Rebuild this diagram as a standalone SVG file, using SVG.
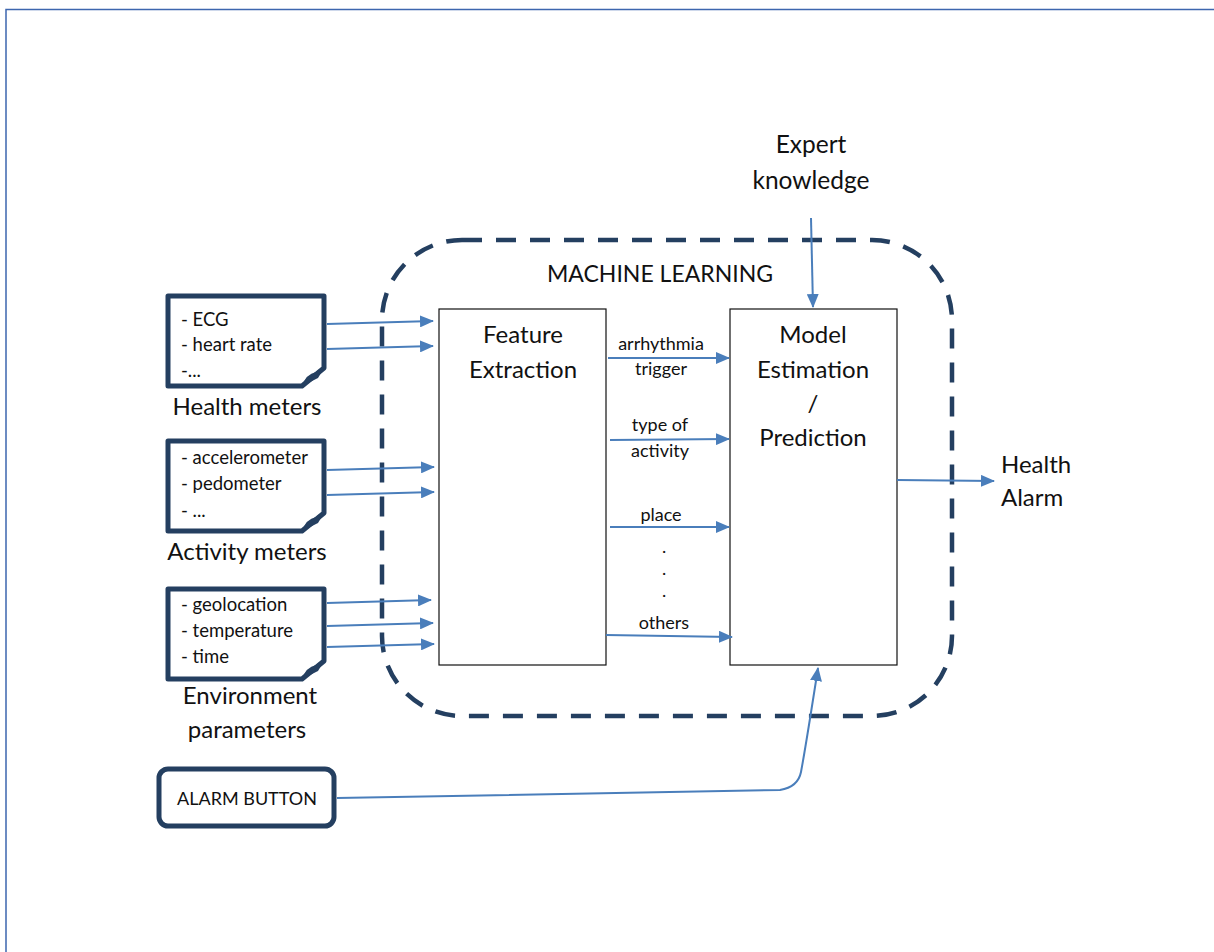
<svg xmlns="http://www.w3.org/2000/svg" width="1214" height="952" viewBox="0 0 1214 952">
  <style>
    text { font-family: Lato, "Open Sans", "Liberation Sans", sans-serif; fill: #111; }
    .item { font-size: 18.5px; }
    .cap { font-size: 24px; }
    .lbl { font-size: 18px; }
    .big { font-size: 24px; }
    .doc { fill: #fff; stroke: #243f60; stroke-width: 5; stroke-linejoin: round; }
    .fold { fill: #243f60; }
    .box { fill: #fff; stroke: #111; stroke-width: 1.2; }
    .conn { fill: none; stroke: #4a7ebb; stroke-width: 2; }
  </style>
  <defs>
    <marker id="arrow" viewBox="0 0 14 12" refX="13" refY="6" markerWidth="14" markerHeight="12" markerUnits="userSpaceOnUse" orient="auto">
      <path d="M0,0 L14,6 L0,12 Z" fill="#4a7ebb"/>
    </marker>
  </defs>

  <rect width="1214" height="952" fill="#fff"/>
  <!-- page frame -->
  <path d="M6,952 V9.5 H1214" fill="none" stroke="#3d66ae" stroke-width="1.5"/>

  <!-- machine learning boundary -->
  <g id="machine-learning">
    <rect x="382" y="240" width="570" height="476" rx="80" ry="80" fill="none" stroke="#243f60" stroke-width="4.5" stroke-dasharray="20 14"/>
    <text x="660" y="282" text-anchor="middle" style="font-size:23px">MACHINE LEARNING</text>
  </g>

  <g id="feature-extraction">
    <rect class="box" x="439" y="309" width="167" height="356"/>
    <text class="big" x="523" y="343" text-anchor="middle">Feature</text>
    <text class="big" x="523" y="378" text-anchor="middle">Extraction</text>
  </g>

  <g id="model-estimation">
    <rect class="box" x="730" y="309" width="167" height="356"/>
    <text class="big" x="813" y="343" text-anchor="middle">Model</text>
    <text class="big" x="813" y="378" text-anchor="middle">Estimation</text>
    <text class="big" x="813" y="412" text-anchor="middle">/</text>
    <text class="big" x="813" y="446" text-anchor="middle">Prediction</text>
  </g>

  <g id="health-meters">
    <path class="doc" d="M168,296 H324 V368 L302,386 H168 Z"/>
    <path class="fold" d="M302,386 Q306,374 316,372 Q320,368 324,368 L318,378 Z"/>
    <text class="item" x="181" y="326">- ECG</text>
    <text class="item" x="181" y="351">- heart rate</text>
    <text class="item" x="181" y="377">-...</text>
    <text class="cap" x="247" y="415" text-anchor="middle">Health meters</text>
  </g>

  <g id="activity-meters">
    <path class="doc" d="M168,441 H324 V513 L302,531 H168 Z"/>
    <path class="fold" d="M302,531 Q306,519 316,517 Q320,513 324,513 L318,523 Z"/>
    <text class="item" x="181" y="464">- accelerometer</text>
    <text class="item" x="181" y="490">- pedometer</text>
    <text class="item" x="181" y="517">- ...</text>
    <text class="cap" x="247" y="560" text-anchor="middle">Activity meters</text>
  </g>

  <g id="environment-parameters">
    <path class="doc" d="M168,589 H324 V661 L302,679 H168 Z"/>
    <path class="fold" d="M302,679 Q306,667 316,665 Q320,661 324,661 L318,671 Z"/>
    <text class="item" x="181" y="611">- geolocation</text>
    <text class="item" x="181" y="637">- temperature</text>
    <text class="item" x="181" y="663">- time</text>
    <text class="cap" x="250" y="704" text-anchor="middle">Environment</text>
    <text class="cap" x="247" y="738" text-anchor="middle">parameters</text>
  </g>

  <g id="alarm-button">
    <rect x="159" y="769" width="175" height="57" rx="9" ry="9" fill="#fff" stroke="#243f60" stroke-width="5"/>
    <text x="247" y="805" text-anchor="middle" style="font-size:18px">ALARM BUTTON</text>
  </g>

  <g id="expert-knowledge">
    <text x="811" y="153" text-anchor="middle" style="font-size:24.5px">Expert</text>
    <text x="811" y="189" text-anchor="middle" style="font-size:24.5px">knowledge</text>
  </g>

  <g id="health-alarm">
    <text class="big" x="1001" y="473">Health</text>
    <text class="big" x="1001" y="506">Alarm</text>
  </g>

  <g id="connectors">
    <path class="conn" marker-end="url(#arrow)" d="M327,324 L433,321"/>
    <path class="conn" marker-end="url(#arrow)" d="M327,349 L433,346"/>
    <path class="conn" marker-end="url(#arrow)" d="M327,470 L434,467"/>
    <path class="conn" marker-end="url(#arrow)" d="M327,495 L434,492"/>
    <path class="conn" marker-end="url(#arrow)" d="M327,603 L431,600"/>
    <path class="conn" marker-end="url(#arrow)" d="M327,626 L433,623"/>
    <path class="conn" marker-end="url(#arrow)" d="M327,647 L434,644"/>

    <path class="conn" marker-end="url(#arrow)" d="M608,358 L729,358"/>
    <path class="conn" marker-end="url(#arrow)" d="M610,440 L729,439"/>
    <path class="conn" marker-end="url(#arrow)" d="M610,527 L729,527"/>
    <path class="conn" marker-end="url(#arrow)" d="M606,635 L732,637"/>

    <path class="conn" marker-end="url(#arrow)" d="M811,218 L813,307"/>
    <path class="conn" marker-end="url(#arrow)" d="M897,480 L994,481"/>
    <path class="conn" marker-end="url(#arrow)" d="M337,798 L780,790 Q798,787 801,772 Q806,745 818,668"/>
  </g>

  <g id="edge-labels">
    <text class="lbl" x="661" y="350" text-anchor="middle">arrhythmia</text>
    <text class="lbl" x="661" y="375" text-anchor="middle">trigger</text>
    <text class="lbl" x="660" y="431" text-anchor="middle">type of</text>
    <text class="lbl" x="660" y="457" text-anchor="middle">activity</text>
    <text class="lbl" x="661" y="521" text-anchor="middle">place</text>
    <text class="lbl" x="664" y="553" text-anchor="middle">.</text>
    <text class="lbl" x="664" y="575" text-anchor="middle">.</text>
    <text class="lbl" x="664" y="597" text-anchor="middle">.</text>
    <text class="lbl" x="664" y="629" text-anchor="middle">others</text>
  </g>
</svg>
